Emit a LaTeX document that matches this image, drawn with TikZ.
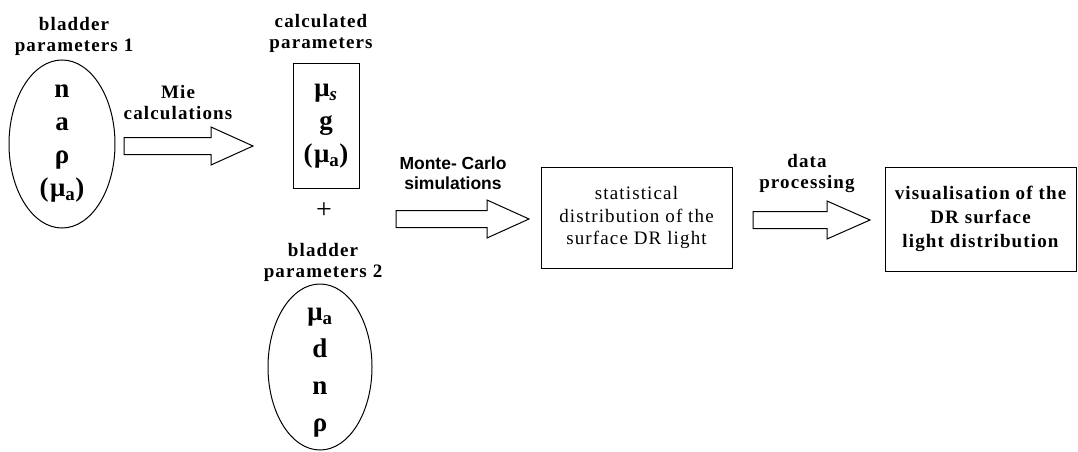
\documentclass[tikz,border=0pt]{standalone}
\usepackage{fontspec}
\setmainfont[LetterSpace=6]{Liberation Serif}
\newfontfamily\sanslbl{Liberation Sans}
\usetikzlibrary{shapes.geometric}

\begin{document}
\begin{tikzpicture}[x=1pt,y=-1pt,
  lbl/.style={align=center,inner sep=0pt,font=\fontsize{19}{21}\selectfont\bfseries},
  sym/.style={align=center,inner sep=0pt,font=\fontsize{27}{33}\selectfont\bfseries},
  oval/.style={draw,ellipse,line width=1pt,minimum width=106,minimum height=168,inner sep=0pt},
  blk/.style={draw,line width=1pt,inner sep=0pt,align=center}]
  \useasboundingbox (0,0) rectangle (1078,452);

  % bladder parameters 1
  \node[lbl] (bp1lbl) at (74,36) {bladder\\parameters 1};
  \node[oval] (bp1) at (62,144) {};
  \node[sym] (bp1txt) at (bp1) {n\\a\\ρ\\(μ\textsubscript{a})};

  % calculated parameters
  \node[lbl] (calclbl) at (321,33) {calculated\\parameters};
  \node[blk,sym,minimum width=66,minimum height=124] (calc) at (326,126)
    {μ\textsubscript{\itshape s}\\g\\(μ\textsubscript{a})};
  \node[font=\fontsize{28}{28}\selectfont,inner sep=0pt] (plus) at (324,211) {+};

  % bladder parameters 2
  \node[lbl] (bp2lbl) at (323,262) {bladder\\parameters 2};
  \node[oval,minimum width=104,minimum height=166] (bp2) at (320,367) {};
  \node[sym,font=\fontsize{27}{37}\selectfont\bfseries] (bp2txt) at (320,373)
    {μ\textsubscript{a}\\d\\n\\ρ};

  % results
  \node[blk,minimum width=191,minimum height=101,font=\fontsize{19}{22.5}\selectfont]
    (stat) at (636.5,217.5) {statistical\\distribution of the\\surface DR light};
  \node[blk,minimum width=191,minimum height=104,font=\fontsize{19}{24}\selectfont\bfseries]
    (vis) at (980.5,219) {visualisation of the\\DR surface\\light distribution};

  % arrow labels
  \node[lbl] (mielbl) at (178,103) {Mie\\calculations};
  \node[align=center,inner sep=0pt,font=\sanslbl\fontsize{17.5}{20}\selectfont\bfseries]
    (mclbl) at (453,173) {Monte- Carlo\\simulations};
  \node[lbl] (dplbl) at (807,174) {data\\processing};

  % block arrows
  \foreach \xa/\xb/\xc/\yy in {124/211/253/146, 396/487/529/219, 753/827/870/220} {
    \draw[line width=1pt] (\xa,\yy-8.5) -- (\xb,\yy-8.5) -- (\xb,\yy-19) -- (\xc,\yy)
      -- (\xb,\yy+19) -- (\xb,\yy+8.5) -- (\xa,\yy+8.5) -- cycle;
  }
\end{tikzpicture}
\end{document}
